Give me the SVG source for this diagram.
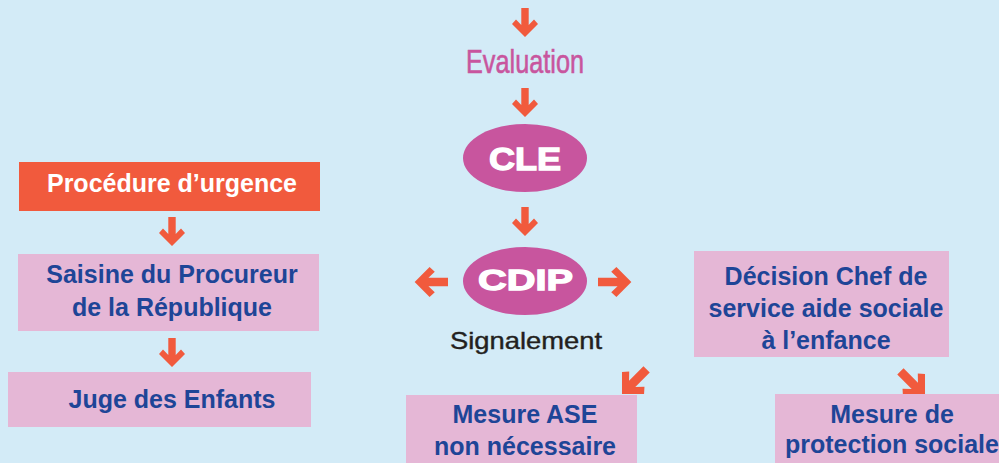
<svg xmlns="http://www.w3.org/2000/svg" width="999" height="463" viewBox="0 0 999 463">
<style>
.box{fill:#E5B7D6}
.bt{font-family:"Liberation Sans",Arial,sans-serif;font-weight:bold;font-size:25px;fill:#1E4597;text-anchor:middle}
.wt{font-family:"Liberation Sans",Arial,sans-serif;font-weight:bold;fill:#FFFFFF;text-anchor:middle}
.ell{fill:#C8559E}
.arr{fill:#F15A3D}
</style>
<defs>
<polygon id="a" points="0,-3.7 17,-3.7 11.5,-9 16,-13 29,0 16,13 11.5,9 17,3.7 0,3.7"/>
</defs>
<rect x="0" y="0" width="999" height="463" fill="#D3EBF7"/>
<g id="connectors" class="arr">
<use href="#a" transform="translate(525,8) rotate(90)"/>
<use href="#a" transform="translate(525,88) rotate(90)"/>
<use href="#a" transform="translate(525,207) rotate(90)"/>
<use href="#a" transform="translate(448,282) rotate(180) scale(1.15)"/>
<use href="#a" transform="translate(598,282) scale(1.15)"/>
<use href="#a" transform="translate(172,217) rotate(90)"/>
<use href="#a" transform="translate(172,338) rotate(90)"/>
<use href="#a" transform="translate(646.6,369.4) rotate(135) scale(1.2)"/>
<use href="#a" transform="translate(900.4,371.4) rotate(45) scale(1.2)"/>
</g>
<g id="evaluation">
<text x="525" y="73" font-family="'Liberation Sans',Arial,sans-serif" font-size="34" fill="#C8559E" stroke="#C8559E" stroke-width="0.6" text-anchor="middle" textLength="118" lengthAdjust="spacingAndGlyphs">Evaluation</text>
</g>
<g id="cle">
<ellipse class="ell" cx="525" cy="158" rx="62" ry="34"/>
<text class="wt" x="525" y="169.5" font-size="31" stroke="#FFFFFF" stroke-width="1.3" textLength="72" lengthAdjust="spacingAndGlyphs">CLE</text>
</g>
<g id="cdip">
<ellipse class="ell" cx="525" cy="281" rx="62" ry="34"/>
<text class="wt" x="525.5" y="289.5" font-size="30" stroke="#FFFFFF" stroke-width="1.3" textLength="95" lengthAdjust="spacingAndGlyphs">CDIP</text>
</g>
<g id="signalement">
<text x="526" y="349" font-family="'Liberation Sans',Arial,sans-serif" font-size="24" fill="#231F20" text-anchor="middle" stroke="#231F20" stroke-width="0.4" textLength="152" lengthAdjust="spacingAndGlyphs">Signalement</text>
</g>
<g id="procedure">
<rect x="19" y="162" width="301" height="49" fill="#F15A3D"/>
<text class="wt" x="172" y="192" font-size="25">Procédure d’urgence</text>
</g>
<g id="saisine">
<rect class="box" x="18" y="254" width="301" height="77"/>
<text class="bt" x="172" y="283">Saisine du Procureur</text>
<text class="bt" x="172" y="316">de la République</text>
</g>
<g id="juge">
<rect class="box" x="8" y="372" width="303" height="55"/>
<text class="bt" x="172" y="408">Juge des Enfants</text>
</g>
<g id="mesure-ase">
<rect class="box" x="406" y="395" width="231" height="80"/>
<text class="bt" x="525" y="423">Mesure ASE</text>
<text class="bt" x="525" y="455">non nécessaire</text>
</g>
<g id="decision">
<rect class="box" x="694" y="251" width="255" height="106"/>
<text class="bt" x="826" y="285">Décision Chef de</text>
<text class="bt" x="826" y="317">service aide sociale</text>
<text class="bt" x="826" y="349">à l’enfance</text>
</g>
<g id="mesure-protection">
<rect class="box" x="775" y="394" width="240" height="80"/>
<text class="bt" x="892" y="423">Mesure de</text>
<text class="bt" x="892" y="453">protection sociale</text>
</g>
</svg>
